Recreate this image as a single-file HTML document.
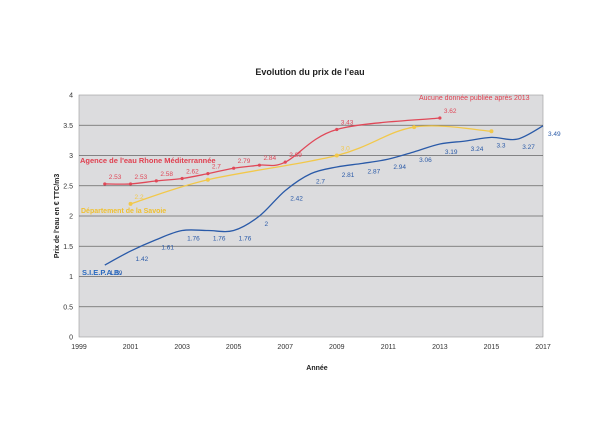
<!DOCTYPE html>
<html><head><meta charset="utf-8"><style>
body{margin:0;background:#fff;width:600px;height:424px;overflow:hidden;font-family:"Liberation Sans",sans-serif}
svg text{font-family:"Liberation Sans",sans-serif}
</style></head><body>
<svg id="chart" width="600" height="424" xmlns="http://www.w3.org/2000/svg">
<rect width="600" height="424" fill="#fff"/>
<text x="310" y="75" font-size="9" font-weight="bold" text-anchor="middle" fill="#222">Evolution du prix de l'eau</text>
<rect x="79" y="95" width="464" height="242" fill="#dcdcde" stroke="#999" stroke-width="0.6"/>
<g id="grid"></g><g id="axes"></g><g id="series"></g><g id="labels"></g>
<text transform="translate(59,216) rotate(-90)" font-size="7" font-weight="bold" text-anchor="middle" fill="#222">Prix de l'eau en € TTC/m3</text>
<text x="317" y="370" font-size="7" font-weight="bold" text-anchor="middle" fill="#222">Année</text>
<text x="80" y="163" font-size="7.5" font-weight="bold" fill="#e04050">Agence de l'eau Rhone Méditerrannée</text>
<text x="81" y="213" font-size="7" font-weight="bold" fill="#f0c030">Département de la Savoie</text>
<text x="82" y="275" font-size="7.5" font-weight="bold" fill="#2a6ac0">S.I.E.P.A.B.</text>
<text x="419" y="100" font-size="7" fill="#e04050">Aucune donnée publiée après 2013</text>
</svg>
<script>
const yTicks=[0,0.5,1,1.5,2,2.5,3,3.5,4];
const xTicks=[1999,2001,2003,2005,2007,2009,2011,2013,2015,2017];
const redYears=[2000,2001,2002,2003,2004,2005,2006,2007,2009,2013];
const redVals=[2.53,2.53,2.58,2.62,2.7,2.79,2.84,2.89,3.43,3.62];
const yelYears=[2001,2004,2009,2012,2015];
const yelVals=[2.2,2.6,3.0,3.47,3.4];
const yelLabels=["2.2","","3.0","",""];
const bluYears=[2000,2001,2002,2003,2004,2005,2006,2007,2008,2009,2010,2011,2012,2013,2014,2015,2016,2017];
const bluVals=[1.19,1.42,1.61,1.76,1.76,1.76,2,2.42,2.7,2.81,2.87,2.94,3.06,3.19,3.24,3.3,3.27,3.49];
const X0=79,X1=543,Y0=337,Y1=95;
const xs=v=>X0+(v-1999)/(2017-1999)*(X1-X0);
const ys=v=>Y0-v/4*(Y0-Y1);
const NS="http://www.w3.org/2000/svg";
function mk(t,a,p){const e=document.createElementNS(NS,t);for(const k in a)e.setAttribute(k,a[k]);p.appendChild(e);return e;}
const grid=document.getElementById('grid'),axes=document.getElementById('axes'),ser=document.getElementById('series'),lab=document.getElementById('labels');
yTicks.forEach(t=>{
 if(t>0&&t<4){const l=mk('line',{x1:X0,x2:X1,y1:ys(t),y2:ys(t),stroke:'#666','stroke-width':0.8},grid);
 
 }
 const tx=mk('text',{x:X0-6,y:ys(t)+2.5,'font-size':7,'text-anchor':'end',fill:'#333'},axes);tx.textContent=t;
 
 
});
xTicks.forEach(t=>{
 const tx=mk('text',{x:xs(t),y:Y0+12,'font-size':7,'text-anchor':'middle',fill:'#333'},axes);tx.textContent=t;
 
 
});
function smooth(pts){let d=`M${pts[0][0]},${pts[0][1]}`;for(let i=0;i<pts.length-1;i++){const p0=pts[i-1]||pts[i],p1=pts[i],p2=pts[i+1],p3=pts[i+2]||p2;
 d+=` C${p1[0]+(p2[0]-p0[0])/6},${p1[1]+(p2[1]-p0[1])/6} ${p2[0]-(p3[0]-p1[0])/6},${p2[1]-(p3[1]-p1[1])/6} ${p2[0]},${p2[1]}`;}return d;}
function series(name,years,vals,color,marker,labels,dx,dy){
 const pts=years.map((y,i)=>[xs(y),ys(vals[i])]);
 const p=mk('path',{d:smooth(pts),fill:'none',stroke:color,'stroke-width':1.3},ser);
 
 
 pts.forEach((q,i)=>{
  if(marker){const c=mk('circle',{cx:q[0],cy:q[1],r:marker,fill:color},ser);
  
  }
  const s=labels?labels[i]:String(vals[i]);
  if(s){const t=mk('text',{x:q[0]+dx,y:q[1]+dy,'font-size':6.5,fill:color},lab);t.textContent=s;
  
  }
 });
}
series('departement',yelYears,yelVals,'#f2c84a',2,yelLabels,4,-5);
series('agence',redYears,redVals,'#e04858',1.6,null,4,-5);
series('siepab',bluYears,bluVals,'#2a5aa8',0,null,5,10);
</script>
</body></html>
